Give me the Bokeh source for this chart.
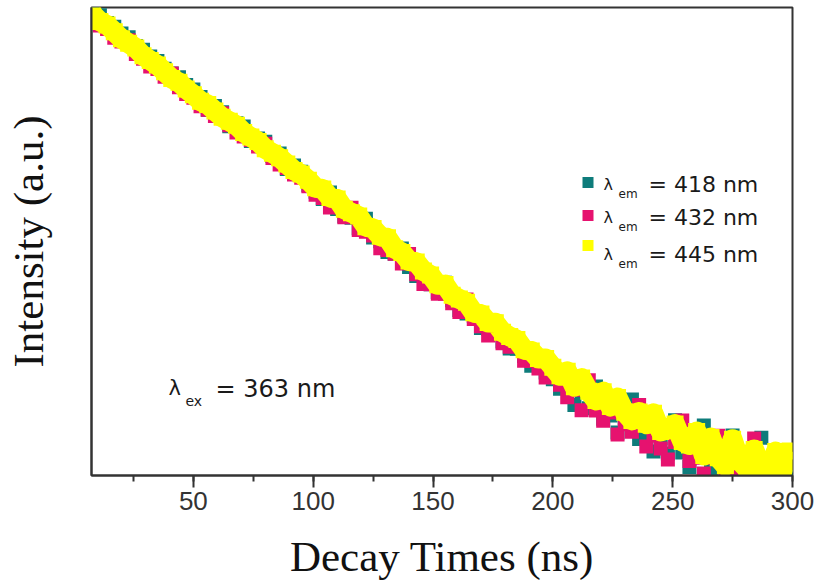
from bokeh.plotting import figure
from bokeh.models import Range1d, SingleIntervalTicker, FixedTicker, Label, BoxAnnotation
from bokeh.embed import file_html
from bokeh.resources import INLINE

# Decay times (ns)
time_ns = [8, 11, 14, 17, 20, 23, 26, 29, 32, 35, 38, 41, 44, 47, 50, 53, 56, 59, 62, 65,
           68, 71, 74, 77, 80, 83, 86, 89, 92, 95, 98, 101, 104, 107, 110, 113, 116, 119, 122, 125,
           128, 131, 134, 137, 140, 143, 146, 149, 152, 155, 158, 161, 164, 167, 170, 173, 176, 179, 182, 185,
           188, 191, 194, 197, 200, 203, 206, 209, 212, 215, 218, 221, 224, 227, 230, 233, 236, 239, 242, 245,
           248, 251, 254, 257, 260, 263, 266, 269, 272, 275, 278, 281, 284, 287, 290, 293, 296, 299]

# Intensity (counts, log scale) - lambda_em = 418 nm
int_418 = [94240, 85670, 73630, 68450, 59830, 55620, 46900, 43610, 38190, 34830,
           29920, 27270, 25340, 21750, 19870, 17140, 13400, 14420, 12750, 9660,
           10230, 9620, 7230, 7610, 7120, 5370, 5640, 4160, 4470, 3940,
           3030, 2664, 2306, 2629, 1899, 1641, 1595, 1301, 1568, 1083,
           1005, 815, 787, 873, 604, 506, 506, 432, 371, 445,
           314, 260, 243, 232, 182, 180, 206, 140, 122, 121,
           105, 86.5, 92.4, 76.0, 66.5, 55.1, 56.7, 40.1, 51.6, 37.5,
           57.7, 30.6, 32.5, 23.3, 30.8, 44.6, 20.5, 21.6, 16.0, 20.7,
           15.4, 29.7, 15.7, 11.8, 15.4, 26.8, 11.2, 12.1, 8.8, 22.0,
           11.8, 9.0, 9.8, 21.0, 10.0, 8.7, 11.2, 9.7]

# lambda_em = 432 nm
int_432 = [80480, 70310, 65440, 55060, 51100, 52410, 40050, 36500, 31350, 29750,
           25550, 27270, 20790, 18210, 16970, 14340, 13400, 11830, 12500, 9850,
           8560, 7890, 7370, 6500, 6840, 5160, 4540, 4240, 3740, 3500,
           2970, 2511, 2352, 1956, 1975, 1609, 1943, 1251, 1213, 1126,
           876, 847, 787, 650, 781, 526, 433, 432, 357, 358,
           296, 250, 320, 218, 189, 157, 165, 135, 126, 150,
           95.6, 95.4, 82.1, 68.9, 73.4, 59.6, 46.6, 54.0, 36.1, 65.1,
           35.9, 29.4, 34.5, 22.4, 27.4, 23.7, 40.1, 17.7, 22.0, 17.0,
           13.7, 19.3, 29.5, 13.3, 14.2, 10.4, 14.2, 21.9, 10.0, 8.2,
           10.9, 12.3, 20.7, 8.8, 10.0, 7.4, 10.0, 8.6]

# lambda_em = 445 nm
int_445 = [87100, 76050, 70790, 62000, 54190, 49400, 45080, 38710, 35300, 32180,
           28200, 24700, 22950, 20100, 18000, 15830, 14790, 13060, 11540, 10660,
           9830, 8540, 7820, 7170, 6190, 5690, 5210, 4590, 4050, 3780,
           3340, 2883, 2808, 2381, 2313, 1884, 1760, 1648, 1339, 1293,
           1109, 1074, 869, 807, 681, 667, 559, 516, 426, 428,
           347, 323, 302, 246, 240, 203, 202, 168, 154, 145,
           119, 116, 100, 100.2, 84.2, 71.1, 77.8, 57.3, 68.0, 52.4,
           43.7, 52.1, 38.8, 46.5, 34.7, 29.5, 34.9, 27.4, 34.0, 23.8,
           24.8, 27.5, 19.5, 18.2, 23.8, 14.8, 21.1, 14.2, 12.1, 20.4,
           13.3, 11.4, 16.7, 11.6, 10.0, 16.0, 11.2, 16.2]

series_labels = ["= 418 nm", "= 432 nm", "= 445 nm"]
colors = ["#0E7C7B", "#E6126F", "#FFFF00"]
x_ticks_interval = 50

p = figure(width=818, height=588, output_backend="svg", toolbar_location=None,
           y_axis_type="log", x_range=Range1d(7.5, 300), y_range=Range1d(10, 100000),
           min_border_left=91, min_border_right=26, min_border_top=7, min_border_bottom=113)
p.background_fill_color = "white"
p.border_fill_color = "white"
p.grid.visible = False
p.outline_line_color = "#333333"
p.outline_line_width = 2

p.scatter(time_ns, int_418, marker="square", size=14, fill_color=colors[0], line_color=None)
p.scatter(time_ns, int_432, marker="square", size=14, fill_color=colors[1], line_color=None)
p.line(time_ns, int_445, line_color=colors[2], line_width=20, line_join="round")
p.scatter(time_ns, int_445, marker="square", size=17, fill_color=colors[2], line_color=None)

xa = p.xaxis[0]
xa.ticker = SingleIntervalTicker(interval=x_ticks_interval, num_minor_ticks=2)
xa.axis_label = "Decay Times (ns)"
xa.axis_label_text_font = "Liberation Serif"
xa.axis_label_text_font_size = "43px"
xa.axis_label_text_font_style = "normal"
xa.axis_label_text_color = "#111111"
xa.axis_label_standoff = 20
xa.major_label_text_font = "Liberation Sans"
xa.major_label_text_font_size = "26px"
xa.major_label_text_color = "#333333"
xa.major_label_standoff = 4
xa.major_tick_out = 12
xa.major_tick_in = 0
xa.minor_tick_out = 6
xa.minor_tick_in = 0
xa.axis_line_color = "#333333"
xa.axis_line_width = 2
xa.major_tick_line_color = "#333333"
xa.major_tick_line_width = 2
xa.minor_tick_line_color = "#333333"
xa.minor_tick_line_width = 2

ya = p.yaxis[0]
ya.ticker = FixedTicker(ticks=[])
ya.axis_label = "Intensity (a.u.)"
ya.axis_label_text_font = "Liberation Serif"
ya.axis_label_text_font_size = "43px"
ya.axis_label_text_font_style = "normal"
ya.axis_label_text_color = "#111111"
ya.axis_label_standoff = 40
ya.major_label_standoff = 0
ya.major_tick_out = 0
ya.major_tick_in = 0
ya.minor_tick_out = 0
ya.minor_tick_in = 0
ya.axis_line_color = "#333333"
ya.axis_line_width = 2

# legend keys and texts (screen units, from frame bottom-left)
rows_y = [291, 258, 221]
key_centers = [293, 260, 230]
for i in range(3):
    p.add_layout(BoxAnnotation(left=491, right=502, bottom=key_centers[i] - 5.5, top=key_centers[i] + 5.5,
                               left_units="screen", right_units="screen", top_units="screen", bottom_units="screen",
                               fill_color=colors[i], fill_alpha=1, line_color=None))
    p.add_layout(Label(x=512, y=rows_y[i], x_units="screen", y_units="screen", text="λ",
                       text_font="DejaVu Sans", text_font_size="16px", text_color="#1a1a1a",
                       text_baseline="alphabetic"))
    p.add_layout(Label(x=527, y=rows_y[i] - 9, x_units="screen", y_units="screen", text="em",
                       text_font="DejaVu Sans", text_font_size="12px", text_color="#1a1a1a",
                       text_baseline="alphabetic"))
    p.add_layout(Label(x=557, y=rows_y[i], x_units="screen", y_units="screen", text=series_labels[i],
                       text_font="DejaVu Sans", text_font_size="22px", text_color="#1a1a1a",
                       text_baseline="alphabetic"))

p.add_layout(Label(x=77, y=88, x_units="screen", y_units="screen", text="λ",
                   text_font="DejaVu Sans", text_font_size="21px", text_color="#1a1a1a",
                   text_baseline="alphabetic"))
p.add_layout(Label(x=94, y=75, x_units="screen", y_units="screen", text="ex",
                   text_font="DejaVu Sans", text_font_size="14px", text_color="#1a1a1a",
                   text_baseline="alphabetic"))
p.add_layout(Label(x=124, y=87, x_units="screen", y_units="screen", text="= 363 nm",
                   text_font="DejaVu Sans", text_font_size="24px", text_color="#1a1a1a",
                   text_baseline="alphabetic"))

open("out.html", "w").write(file_html(p, INLINE))
